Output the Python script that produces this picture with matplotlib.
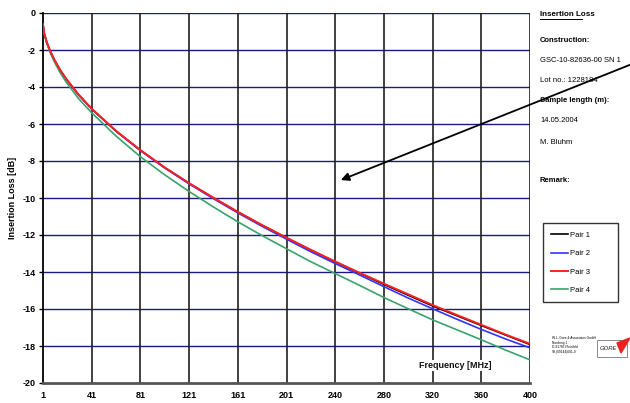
import numpy as np
import matplotlib.pyplot as plt
from matplotlib.patches import Rectangle, Polygon

plt.rcParams['font.family'] = ['Liberation Sans', 'DejaVu Sans']

# frequency points (MHz)
freq = [1, 2, 4, 7, 10, 15, 20, 30, 41, 61, 81, 101, 121, 141, 161, 181,
        201, 220, 240, 260, 280, 300, 320, 340, 360, 380, 400]

# insertion loss (dB), estimated from the curves
pair1 = [-0.62, -1.10, -1.57, -2.08, -2.50, -3.08, -3.57, -4.41, -5.19, -6.39,
         -7.43, -8.37, -9.22, -10.01, -10.77, -11.49, -12.17, -12.80, -13.44,
         -14.05, -14.66, -15.25, -15.83, -16.36, -16.89, -17.41, -17.92]
pair2 = [-0.63, -1.11, -1.58, -2.09, -2.51, -3.09, -3.58, -4.42, -5.20, -6.40,
         -7.45, -8.39, -9.25, -10.05, -10.82, -11.55, -12.24, -12.89, -13.53,
         -14.15, -14.78, -15.40, -15.98, -16.55, -17.10, -17.62, -18.10]
pair3 = [-0.60, -1.09, -1.56, -2.07, -2.49, -3.07, -3.56, -4.40, -5.18, -6.38,
         -7.42, -8.36, -9.21, -10.00, -10.76, -11.48, -12.16, -12.79, -13.42,
         -14.03, -14.62, -15.20, -15.78, -16.32, -16.85, -17.38, -17.88]
pair4 = [-0.62, -1.13, -1.62, -2.16, -2.60, -3.22, -3.74, -4.62, -5.40, -6.66,
         -7.78, -8.76, -9.66, -10.50, -11.30, -12.05, -12.76, -13.43, -14.07,
         -14.71, -15.37, -15.98, -16.58, -17.12, -17.66, -18.22, -18.75]

x_ticks = np.linspace(1, 400, 11)
x_labels = ['1', '41', '81', '121', '161', '201', '240', '280', '320', '360', '400']
y_ticks = np.arange(-20, 1, 2)

F = 6.5

fig = plt.figure(figsize=(6.3, 4.03), dpi=100)
ax = fig.add_axes([43/630, 1-383/403, (530-43)/630, (383-13)/403])

# grid
for yv in y_ticks[1:]:
    ax.axhline(yv, color='#1a1a80', lw=1.0, zorder=1)
for xv in x_ticks[1:]:
    ax.axvline(xv, color='#202020', lw=1.2, zorder=1)

ax.plot(freq, pair1, color='black', lw=1.2, label='Pair 1', zorder=3)
ax.plot(freq, pair2, color='#3333ff', lw=1.2, label='Pair 2', zorder=3)
ax.plot(freq, pair3, color='#ff2020', lw=1.4, label='Pair 3', zorder=4)
ax.plot(freq, pair4, color='#3aa36a', lw=1.2, label='Pair 4', zorder=3)

ax.set_xlim(1, 400)
ax.set_ylim(-20, 0)
ax.set_xticks(x_ticks)
ax.set_xticklabels(x_labels, fontsize=F, fontweight='bold')
ax.set_yticks(y_ticks)
ax.set_yticklabels([str(v) for v in y_ticks], fontsize=F, fontweight='bold')
ax.tick_params(axis='both', length=3, width=1, pad=2)
ax.tick_params(axis='x', length=0, pad=6)

ax.spines['top'].set_visible(False)
ax.spines['right'].set_visible(False)
ax.spines['left'].set_linewidth(1.3)
ax.spines['bottom'].set_color('#555555')
ax.spines['bottom'].set_linewidth(2)

ax.set_ylabel('Insertion Loss [dB]', fontsize=F, fontweight='bold', labelpad=4)
ax.text(0.92, 0.035, 'Frequency [MHz]', transform=ax.transAxes, fontsize=F,
        fontweight='bold', ha='right', va='bottom', color='#111111',
        bbox=dict(facecolor='white', edgecolor='none', pad=1))

# arrow
ax.annotate('', xy=(245, -9.03), xycoords='data',
            xytext=(632/630, 1-64/403), textcoords='figure fraction',
            arrowprops=dict(arrowstyle='-|>', color='black', lw=1.3,
                            mutation_scale=12, shrinkA=0, shrinkB=0),
            annotation_clip=False)

# right side info panel
tx = 540/630
def ftxt(y, s, bold=False, **kw):
    fig.text(tx, 1-y/403, s, fontsize=5.5, fontweight='bold' if bold else 'normal',
             va='center', ha='left', **kw)

t = fig.text(tx, 1-15/403, 'Insertion Loss', fontsize=5.8, fontweight='bold',
             va='center', ha='left')
fig.add_artist(plt.Line2D([tx, 582/630], [1-19/403, 1-19/403], color='black', lw=0.7))
ftxt(40, 'Construction:', True)
ftxt(60, 'GSC-10-82636-00 SN 1')
ftxt(81, 'Lot no.: 1228184')
ftxt(100, 'Sample length (m):', True)
ftxt(121, '14.05.2004')
ftxt(142, 'M. Bluhm')
ftxt(181, 'Remark:', True)

leg = ax.legend(loc='upper left', bbox_to_anchor=(543/630, 1-302/403, 75/630, 79/403),
                bbox_transform=fig.transFigure, mode='expand', fontsize=5.5,
                frameon=True, fancybox=False, handlelength=2.2, handletextpad=0.2,
                labelspacing=1.45, borderpad=1.1, borderaxespad=0)
leg.get_frame().set_edgecolor('black')
leg.get_frame().set_linewidth(1)

# company stamp
fig.text(552/630, 1-345/403,
         'W.L. Gore & Associates GmbH\nNordring 1\nD-91785 Pleinfeld\nTel.(09144)601-0',
         fontsize=2.3, va='center', ha='left', linespacing=1.3)
fig.add_artist(Rectangle((597/630, 1-357/403), 30/630, 17/403, transform=fig.transFigure,
                         fill=False, edgecolor='#777777', lw=0.6))
fig.text(608/630, 1-348/403, 'GORE', fontsize=4.2, style='italic', va='center',
         ha='center', color='#222222')
fig.add_artist(Polygon([(617/630, 1-343/403), (630/630, 1-338/403), (621/630, 1-353/403)],
                       closed=True, transform=fig.transFigure, color='#ee2020'))

fig.savefig('out.png', dpi=100)
